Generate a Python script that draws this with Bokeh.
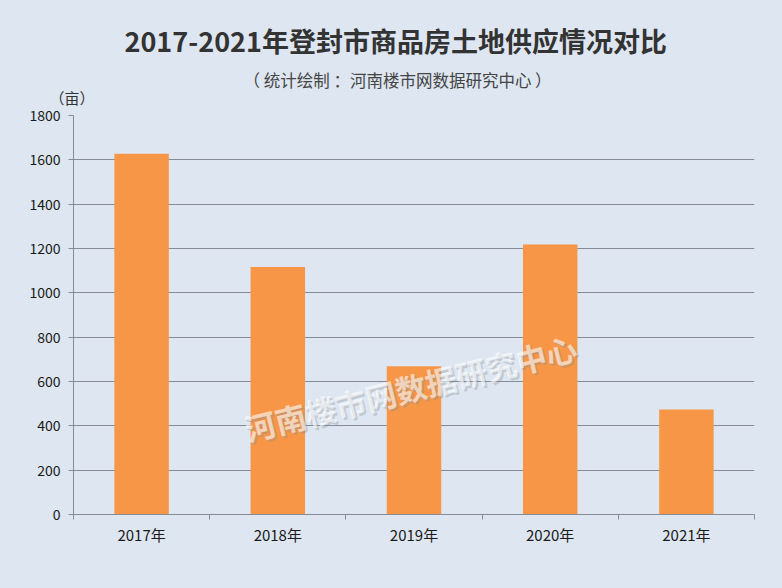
from bokeh.plotting import figure
from bokeh.models import Range1d, FixedTicker, Label, Title
from bokeh.embed import file_html
from bokeh.resources import INLINE

# ---- data ----
years = ["2017年", "2018年", "2019年", "2020年", "2021年"]
supply = [1628, 1116, 669, 1218, 474]
y_ticks = [0, 200, 400, 600, 800, 1000, 1200, 1400, 1600, 1800]

title_text = "2017-2021年登封市商品房土地供应情况对比"
subtitle_text = "（ 统计绘制 ：河南楼市网数据研究中心 ）"
unit_text = "（亩）"
watermark_text = "河南楼市网数据研究中心"

BG = "#dde6f1"
BAR = "#f79646"
GRID = "#868b94"
FONT = "Noto Sans CJK SC"

W, H = 782, 588
p = figure(width=W, height=H, output_backend="svg", toolbar_location=None,
           title=None,
           x_range=Range1d(0, len(years)), y_range=Range1d(0, 1800),
           min_border_left=73, min_border_right=28, min_border_top=115,
           min_border_bottom=74)
p.background_fill_color = BG
p.border_fill_color = BG
p.outline_line_color = None

xs = [i + 0.5 for i in range(len(years))]
p.vbar(x=xs, top=supply, width=0.4, bottom=0, color=BAR, line_color=None)

# x axis
p.xaxis.ticker = FixedTicker(ticks=xs, minor_ticks=list(range(len(years) + 1)))
p.xaxis.major_label_overrides = {x: y for x, y in zip(xs, years)}
p.xaxis.major_tick_out = 0
p.xaxis.major_tick_in = 0
p.xaxis.minor_tick_out = 5
p.xaxis.minor_tick_in = 0
p.xaxis.minor_tick_line_color = GRID
p.xaxis.axis_line_color = GRID
p.xaxis.major_label_standoff = 4
p.xaxis.major_label_text_font = FONT
p.xaxis.major_label_text_font_size = "15px"
p.xaxis.major_label_text_color = "#1a1a1a"

# y axis
p.yaxis.ticker = FixedTicker(ticks=y_ticks)
p.yaxis.major_tick_out = 5
p.yaxis.major_tick_in = 0
p.yaxis.minor_tick_line_color = None
p.yaxis.major_tick_line_color = GRID
p.yaxis.axis_line_color = GRID
p.yaxis.major_label_standoff = 8
p.yaxis.major_label_text_font = FONT
p.yaxis.major_label_text_font_size = "14px"
p.yaxis.major_label_text_color = "#1a1a1a"

p.xgrid.grid_line_color = None
p.ygrid.grid_line_color = GRID
p.ygrid.grid_line_width = 1

# titles stacked above (first added = closest to plot)
p.add_layout(Title(text=unit_text, align="left", offset=-24, standoff=15,
                   text_font=FONT, text_font_size="15px",
                   text_font_style="normal", text_color="#333333"), "above")
p.add_layout(Title(text=subtitle_text, align="left", offset=170, standoff=-29,
                   text_font=FONT, text_font_size="16.5px",
                   text_font_style="normal", text_color="#444444"), "above")
p.add_layout(Title(text=title_text, align="left", offset=51, standoff=35,
                   text_font=FONT, text_font_size="27px",
                   text_font_style="bold", text_color="#333333"), "above")

# watermark
p.add_layout(Label(x=339, y=125, x_units="screen", y_units="screen",
                   text=watermark_text, text_font=FONT, text_font_size="31px",
                   text_font_style="bold", text_color="#8a8f99", text_alpha=0.35,
                   angle=0.245, text_align="center", text_baseline="middle"))
p.add_layout(Label(x=337, y=127, x_units="screen", y_units="screen",
                   text=watermark_text, text_font=FONT, text_font_size="31px",
                   text_font_style="bold", text_color="#ffffff", text_alpha=0.6,
                   angle=0.245, text_align="center", text_baseline="middle"))

html = file_html(p, INLINE)
html = html.replace("</head>", "<style>body{background:%s;}</style></head>" % BG, 1)
open("out.html", "w").write(html)
